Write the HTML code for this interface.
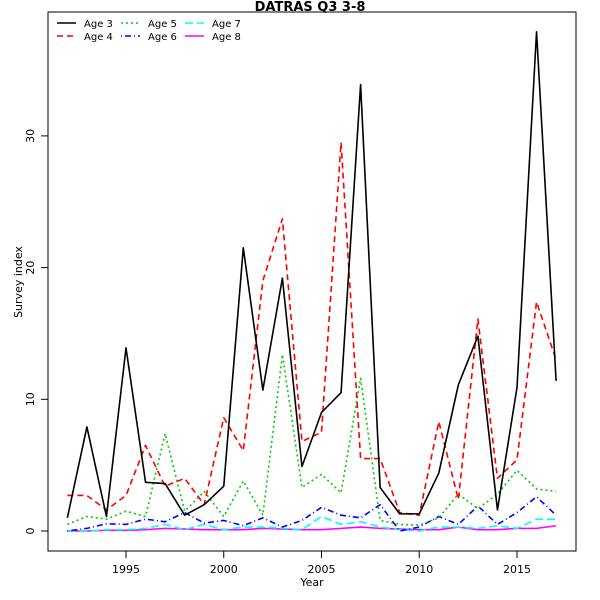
<!DOCTYPE html>
<html><head><meta charset="utf-8"><style>
body{margin:0;background:#fff}
svg{display:block;font-family:"DejaVu Sans","Liberation Sans",sans-serif}
</style></head><body>
<svg id="chart" width="600" height="600" viewBox="0 0 600 600">
<rect x="0" y="0" width="600" height="600" fill="#fff"/>
<text x="310" y="11" text-anchor="middle" font-weight="bold" font-size="13">DATRAS Q3 3-8</text>
<rect x="48" y="12" width="528" height="539" fill="none" stroke="#000" stroke-width="1"/>
<g id="xaxis"></g>
<g id="yaxis"></g>
<text x="312" y="586" text-anchor="middle" font-size="11">Year</text>
<text transform="translate(22,282) rotate(-90)" text-anchor="middle" font-size="11">Survey index</text>
<g id="series"></g>
<g id="legend"></g>
</svg>
<script>
const years=[1992,1993,1994,1995,1996,1997,1998,1999,2000,2001,2002,2003,2004,2005,2006,2007,2008,2009,2010,2011,2012,2013,2014,2015,2016,2017];
const age3=[1.0,7.9,1.1,13.9,3.7,3.6,1.2,2.0,3.4,21.5,10.7,19.2,4.9,9.0,10.5,33.9,3.3,1.3,1.3,4.4,11.1,14.8,1.6,10.9,37.9,11.4];
const age4=[2.7,2.7,1.6,2.7,6.5,3.4,4.0,2.0,8.6,6.1,19.0,23.7,6.8,7.5,29.5,5.5,5.5,1.4,1.2,8.3,2.4,16.1,4.0,5.4,17.4,13.0];
const age5=[0.5,1.1,0.9,1.5,1.1,7.4,1.5,3.0,1.1,3.8,1.2,13.4,3.3,4.3,2.9,11.6,0.8,0.5,0.45,1.0,2.8,1.7,2.8,4.6,3.2,3.0];
const age6=[0.0,0.2,0.55,0.5,0.9,0.7,1.4,0.6,0.8,0.4,1.0,0.3,0.8,1.8,1.2,1.0,2.0,0.0,0.3,1.1,0.5,1.9,0.5,1.4,2.6,1.2];
const age7=[0.0,0.0,0.1,0.1,0.2,0.5,0.1,0.5,0.1,0.3,0.3,0.2,0.1,1.1,0.5,0.7,0.3,0.1,0.0,0.3,0.3,0.2,0.4,0.2,0.9,0.9];
const age8=[0.0,0.0,0.05,0.05,0.1,0.2,0.15,0.1,0.1,0.1,0.2,0.15,0.1,0.1,0.2,0.3,0.2,0.15,0.1,0.1,0.3,0.1,0.1,0.2,0.2,0.4];
const xTicks=[1995,2000,2005,2010,2015];
const yTicks=[0,10,20,30];
const NS="http://www.w3.org/2000/svg";
function xs(v){return 126+(v-1995)*19.55;}
function ys(v){return 531-v*13.17;}
function mk(tag,attrs,parent){const e=document.createElementNS(NS,tag);for(const k in attrs)e.setAttribute(k,attrs[k]);parent.appendChild(e);return e;}
const xa=document.getElementById('xaxis'),ya=document.getElementById('yaxis');
mk('line',{x1:xs(1995),x2:xs(2015),y1:551,y2:551,stroke:'#000'},xa);
xTicks.forEach(t=>{
  const l=mk('line',{x1:xs(t),x2:xs(t),y1:551,y2:558,stroke:'#000'},xa);
  
  
  const tx=mk('text',{x:xs(t),y:573,'text-anchor':'middle','font-size':'11'},xa);
  tx.textContent=t;
  
  
});
mk('line',{x1:48,x2:48,y1:ys(0),y2:ys(30),stroke:'#000'},ya);
yTicks.forEach(t=>{
  const l=mk('line',{x1:41,x2:48,y1:ys(t),y2:ys(t),stroke:'#000'},ya);
  
  
  const tx=mk('text',{transform:`translate(34,${ys(t)}) rotate(-90)`,'text-anchor':'middle','font-size':'11'},ya);
  tx.textContent=t;
  
  
});
const series=[
 {name:'Age 3',data:age3,color:'#000',dash:''},
 {name:'Age 4',data:age4,color:'#ff0000',dash:'6,4'},
 {name:'Age 5',data:age5,color:'#00cd00',dash:'2,3'},
 {name:'Age 6',data:age6,color:'#0000ff',dash:'1,3,6,3'},
 {name:'Age 7',data:age7,color:'#00ffff',dash:'8,4'},
 {name:'Age 8',data:age8,color:'#ff00ff',dash:''}
];
const sg=document.getElementById('series'),lg=document.getElementById('legend');
series.slice().reverse().forEach(s=>{
  const p=mk('polyline',{points:years.map((y,i)=>xs(y)+','+ys(s.data[i])).join(' '),fill:'none',stroke:s.color,'stroke-width':'1.6','stroke-dasharray':s.dash,'stroke-linejoin':'round'},sg);
  
  
});
series.forEach((s,i)=>{
  const col=Math.floor(i/2),row=i%2;
  const x0=57+col*64,y0=23+row*13;
  const g=mk('g',{},lg);
  
  
  mk('line',{x1:x0,x2:x0+19,y1:y0,y2:y0,stroke:s.color,'stroke-width':'1.6','stroke-dasharray':s.dash},g);
  const t=mk('text',{x:x0+27,y:y0+4,'font-size':'10'},g);
  t.textContent=s.name;
});
</script>
</body></html>
